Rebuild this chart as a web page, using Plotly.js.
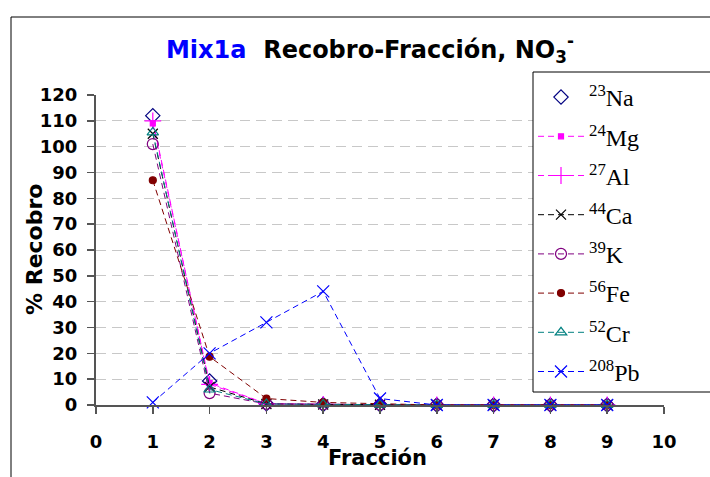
<!DOCTYPE html>
<html><head><meta charset="utf-8">
<script src="https://cdn.plot.ly/plotly-3.0.1.min.js"></script>
<style>html,body{margin:0;padding:0;background:#fff;}#chart{width:710px;height:477px;}</style>
</head><body><div id="chart"></div>
<script>
const fractions = [1, 2, 3, 4, 5, 6, 7, 8, 9];
const seriesNames = ['<sup>23</sup>Na', '<sup>24</sup>Mg', '<sup>27</sup>Al', '<sup>44</sup>Ca', '<sup>39</sup>K', '<sup>56</sup>Fe', '<sup>52</sup>Cr', '<sup>208</sup>Pb'];
const na = [112, 9.3, 0.5, 0.2, 0.1, 0, 0, 0, 0];
const mg = [109, 8.5, 0.5, 0.2, 0.1, 0, 0, 0, 0];
const al = [110, 8, 0.5, 0.2, 0.1, 0, 0, 0, 0];
const ca = [105, 7, 0.4, 0.2, 0.1, 0, 0, 0, 0];
const k  = [101, 4.6, 0.4, 0.2, 0.1, 0, 0, 0, 0];
const fe = [87, 18.7, 2.5, 1, 0.5, 0, 0, 0, 0];
const cr = [105.5, 6, 0.4, 0.2, 0.1, 0, 0, 0, 0];
const pb = [1, 20, 32, 44, 2.5, 0, 0, 0, 0];
const xTicks = [0, 1, 2, 3, 4, 5, 6, 7, 8, 9, 10];
const yTicks = [0, 10, 20, 30, 40, 50, 60, 70, 80, 90, 100, 110, 120];
const xTitle = 'Fracción';
const yTitle = '% Recobro';

const values = [na, mg, al, ca, k, fe, cr, pb];
const styles = [
  {color:'#000080', symbol:'diamond-open', size:11, mode:'markers'},
  {color:'#FF00FF', symbol:'square', size:5, mode:'lines+markers'},
  {color:'#FF00FF', symbol:'cross-thin-open', size:12, mode:'lines+markers'},
  {color:'#000000', symbol:'x-thin-open', size:10, mode:'lines+markers'},
  {color:'#800080', symbol:'circle-open', size:11, mode:'lines+markers'},
  {color:'#800000', symbol:'circle', size:7, mode:'lines+markers'},
  {color:'#008080', symbol:'triangle-up-open', size:10, mode:'lines+markers'},
  {color:'#0000FF', symbol:'x-thin-open', size:12, mode:'lines+markers'}
];
const traces = values.map((v, i) => ({
  x: fractions, y: v, name: seriesNames[i], type: 'scatter', mode: styles[i].mode,
  line: {color: styles[i].color, width: 1, dash: '6px,4px'},
  marker: {color: styles[i].color, symbol: styles[i].symbol, size: styles[i].size,
           line: {color: styles[i].color, width: 1.2}},
  cliponaxis: false, legendgroup: 'g' + i
}));

const W = 568, H = 310, L = 96, T = 95;
const px = v => (v - L) / W;
const py = v => (T + H - v) / H;
const bold = 'DejaVu Sans, Verdana, sans-serif';
const layout = {
  width: 710, height: 477,
  margin: {l: L, r: 710 - L - W, t: T, b: 477 - T - H, autoexpand: false},
  paper_bgcolor: '#fff', plot_bgcolor: '#fff',
  font: {family: bold, color: '#000'},
  title: {
    text: "<span style='color:#0000FF'>Mix1a</span>  Recobro-Fracción, NO<sub>3</sub><sup>-</sup>",
    font: {size: 24, weight: 'bold', family: bold},
    x: 0.521, xanchor: 'center', y: 0.897, yanchor: 'middle', xref: 'container', yref: 'container'
  },
  xaxis: {
    range: [0, 10], tickvals: xTicks, ticktext: xTicks.map(String), automargin: false,
    showgrid: false, zeroline: false, showline: true, linecolor: '#555', linewidth: 2,
    ticks: 'outside', ticklen: 7, tickcolor: '#555', tickwidth: 1.5,
    tickfont: {size: 18, weight: 'bold'}, ticklabelstandoff: 12
  },
  yaxis: {
    range: [0, 120], tickvals: yTicks, ticktext: yTicks.map(String), automargin: false,
    showgrid: true, gridcolor: '#c8c8c8', griddash: '10px,6px', gridwidth: 1,
    zeroline: false, showline: true, linecolor: '#555', linewidth: 2,
    ticks: 'outside', ticklen: 7, tickcolor: '#555', tickwidth: 1.5,
    tickfont: {size: 18, weight: 'bold'}, ticklabelstandoff: 6
  },
  annotations: [
    {text: xTitle, xref: 'paper', yref: 'paper', x: px(377), y: py(458),
     xanchor: 'center', yanchor: 'middle', showarrow: false, font: {size: 21, weight: 'bold'}},
    {text: yTitle, xref: 'paper', yref: 'paper', x: px(34), y: py(250),
     xanchor: 'center', yanchor: 'middle', textangle: -90, showarrow: false, font: {size: 22, weight: 'bold'}}
  ],
  legend: {
    x: px(533), xanchor: 'left', y: py(75), yanchor: 'top',
    bgcolor: 'rgba(0,0,0,0)', borderwidth: 0, maxheight: 400,
    font: {family: 'Liberation Serif, Times New Roman, serif', size: 24, color: '#000'},
    tracegroupgap: 5, itemwidth: 46
  },
  shapes: [
    {type: 'rect', xref: 'paper', yref: 'paper',
     x0: px(11), x1: px(740), y0: py(520), y1: py(17),
     line: {color: '#000', width: 1}, fillcolor: 'rgba(0,0,0,0)', layer: 'below'},
    {type: 'rect', xref: 'paper', yref: 'paper',
     x0: px(533), x1: px(740), y0: py(392), y1: py(72),
     line: {color: '#000', width: 1}, fillcolor: '#fff', layer: 'above'}
  ]
};
Plotly.newPlot('chart', traces, layout, {displayModeBar: false, staticPlot: true});
</script></body></html>
